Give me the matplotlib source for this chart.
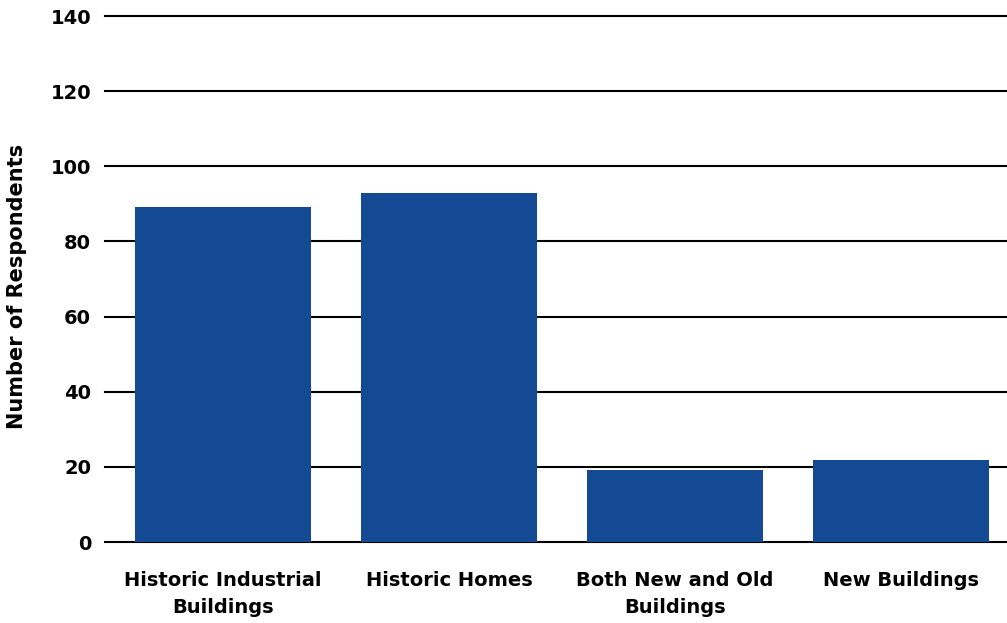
import matplotlib
matplotlib.use("Agg")
import matplotlib.pyplot as plt

categories = ["Historic Industrial\nBuildings", "Historic Homes", "Both New and Old\nBuildings", "New Buildings"]
values = [89.2, 92.9, 19.2, 21.8]
yticks = [0, 20, 40, 60, 80, 100, 120, 140]

plt.rcParams['font.family'] = ['DejaVu Sans']
fig = plt.figure(figsize=(10.07, 6.23), dpi=100)
ax = fig.add_axes([105/1007, 1-542/623, 1-105/1007, (542-16)/623])

x = list(range(len(categories)))
ax.bar(x, values, width=0.78, color="#134A93", zorder=3)
ax.set_ylim(0, 140)
ax.set_xlim(-0.522, 3.469)
ax.set_yticks(yticks)
ax.set_yticklabels([str(t) for t in yticks], fontsize=14, fontweight='bold')
ax.set_xticks(x)
ax.set_xticklabels(categories, fontsize=14, fontweight='bold', linespacing=1.5)
ax.tick_params(axis='y', length=0, pad=10)
ax.tick_params(axis='x', length=0, pad=21)
for s in ax.spines.values():
    s.set_visible(False)
ax.yaxis.grid(True, color='black', linewidth=1.5, zorder=0)
for gl in ax.get_ygridlines():
    gl.set_clip_on(False)
ax.set_axisbelow(True)
ax.set_ylabel("Number of Respondents", fontsize=15, fontweight='bold')
ax.yaxis.set_label_coords(-0.0865, 0.485)
fig.savefig("out.png", dpi=100)
